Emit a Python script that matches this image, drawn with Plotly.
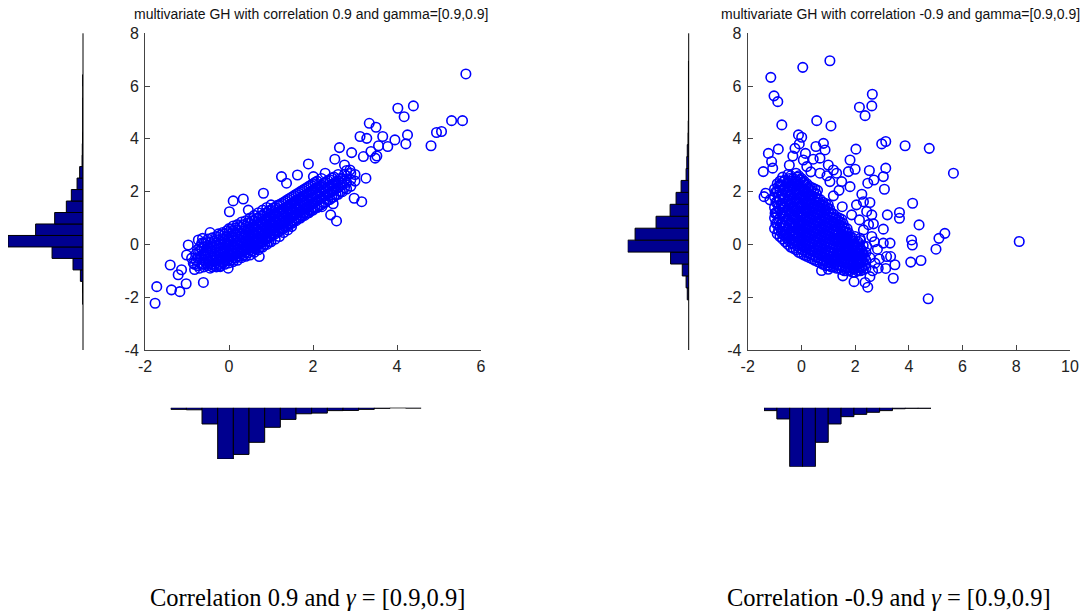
import plotly.graph_objects as go

W, H = 1086, 615

# ---------------- data: left panel (correlation 0.9) ----------------
left_outliers = [
    (5.64, 6.46), (4.39, 5.25), (4.02, 5.16), (4.17, 4.84), (5.30, 4.69), (5.56, 4.69),
    (5.06, 4.28), (4.94, 4.24), (4.81, 3.74), (4.25, 4.15), (4.21, 3.81), (3.95, 3.96),
    (3.78, 3.71), (3.34, 4.59), (3.50, 4.44), (3.12, 4.09), (3.28, 4.02), (3.66, 4.09),
    (3.56, 3.74), (3.38, 3.52), (3.52, 3.35), (3.48, 3.27), (3.20, 3.33), (2.92, 3.48),
    (2.63, 3.67), (2.52, 3.23), (2.75, 3.01), (2.88, 2.82), (3.26, 2.51), (3.16, 1.62),
    (2.98, 1.75), (2.42, 1.12), (2.56, 0.89), (2.48, 1.54), (2.21, 1.43), (1.89, 3.05),
    (1.63, 2.63), (1.25, 2.57), (1.37, 2.32), (2.29, 2.70), (2.01, 2.57), (1.77, 1.18),
    (1.49, 0.68), (0.82, 1.94), (0.34, 1.72), (0.10, 1.65), (0.01, 1.24), (0.46, 1.30),
    (0.72, -0.46), (0.62, -0.14), (-0.61, -1.44), (-0.02, -0.90), (-0.21, -0.84),
    (-0.97, -0.02), (-0.73, 0.17), (-0.45, 0.45), (-0.63, 0.23), (-1.40, -0.78),
    (-1.21, -1.15), (-1.13, -0.96), (-1.02, -1.49), (-1.37, -1.72), (-1.17, -1.79),
    (-1.72, -1.60), (-1.76, -2.23), (-1.01, -0.40), (-0.85, -0.71), (-0.89, -0.52),
]
# dense core, listed as (x, [y values at that x])
left_core = [
    (-0.82, [-0.95, -0.75]), (-0.78, [-0.6, -0.35]),
    (-0.70, [-0.9, -0.7, -0.55, -0.25, -0.1]),
    (-0.60, [-0.85, -0.75, -0.6, -0.35, -0.1, 0.05]),
    (-0.50, [-0.8, -0.65, -0.55, -0.3, -0.15, -0.05, 0.2]),
    (-0.40, [-0.85, -0.75, -0.6, -0.5, -0.25, -0.1, 0.0, 0.25]),
    (-0.30, [-0.85, -0.7, -0.55, -0.45, -0.2, -0.05, 0.05, 0.3]),
    (-0.20, [-0.8, -0.65, -0.5, -0.4, -0.3, -0.15, 0.0, 0.1, 0.35]),
    (-0.10, [-0.75, -0.6, -0.45, -0.35, -0.25, -0.1, 0.05, 0.15, 0.4]),
    (0.00, [-0.7, -0.55, -0.4, -0.3, -0.2, -0.05, 0.1, 0.2, 0.45, 0.6]),
    (0.10, [-0.65, -0.5, -0.35, -0.25, -0.1, 0.0, 0.15, 0.25, 0.5, 0.7]),
    (0.20, [-0.6, -0.45, -0.3, -0.2, -0.05, 0.05, 0.2, 0.3, 0.55, 0.75]),
    (0.30, [-0.5, -0.35, -0.2, -0.1, 0.05, 0.15, 0.3, 0.4, 0.65, 0.85]),
    (0.40, [-0.45, -0.3, -0.15, -0.05, 0.1, 0.2, 0.35, 0.45, 0.7, 0.9]),
    (0.50, [-0.4, -0.2, -0.05, 0.05, 0.2, 0.3, 0.45, 0.55, 0.8, 1.0]),
    (0.60, [-0.3, -0.1, 0.0, 0.15, 0.3, 0.4, 0.55, 0.65, 0.9, 1.1]),
    (0.70, [-0.2, 0.0, 0.1, 0.25, 0.4, 0.5, 0.65, 0.75, 1.0, 1.2]),
    (0.80, [-0.1, 0.1, 0.2, 0.35, 0.5, 0.6, 0.75, 0.85, 1.1, 1.3]),
    (0.90, [0.0, 0.2, 0.3, 0.45, 0.6, 0.7, 0.85, 0.95, 1.2, 1.4]),
    (1.00, [0.1, 0.3, 0.4, 0.55, 0.7, 0.8, 0.95, 1.05, 1.3, 1.5]),
    (1.10, [0.2, 0.4, 0.5, 0.65, 0.8, 0.9, 1.05, 1.15, 1.4]),
    (1.20, [0.3, 0.5, 0.6, 0.75, 0.9, 1.0, 1.15, 1.25, 1.5]),
    (1.30, [0.45, 0.6, 0.7, 0.85, 1.1, 1.25, 1.35, 1.6]),
    (1.40, [0.55, 0.7, 0.8, 0.95, 1.2, 1.35, 1.45, 1.7]),
    (1.50, [0.8, 0.9, 1.05, 1.3, 1.45, 1.55, 1.8]),
    (1.60, [0.9, 1.0, 1.15, 1.4, 1.55, 1.65, 1.9]),
    (1.70, [1.0, 1.1, 1.25, 1.5, 1.65, 1.75, 2.0]),
    (1.80, [1.1, 1.2, 1.35, 1.6, 1.85, 2.1]),
    (1.90, [1.2, 1.3, 1.45, 1.7, 1.95, 2.2]),
    (2.00, [1.3, 1.4, 1.55, 1.8, 2.05, 2.3]),
    (2.10, [1.4, 1.65, 1.9, 2.15, 2.4]),
    (2.20, [1.5, 1.75, 2.0, 2.25, 2.5]),
    (2.30, [1.6, 1.85, 2.1, 2.35]),
    (2.40, [1.7, 1.95, 2.2, 2.45]),
    (2.50, [1.8, 2.05, 2.3, 2.55]),
    (2.60, [1.9, 2.15, 2.4, 2.65]),
    (2.70, [2.0, 2.25, 2.5]),
    (2.80, [2.1, 2.35, 2.6, 2.8]),
    (2.90, [2.2, 2.45, 2.7]),
    (3.00, [2.4, 2.65]),
    # in-between columns
    (-0.75, [-0.8, -0.5, -0.2]),
    (-0.65, [-0.75, -0.45, -0.15, 0.05]),
    (-0.55, [-0.7, -0.45, -0.2, 0.1]),
    (-0.45, [-0.9, -0.68, -0.42, -0.18, 0.08]),
    (-0.35, [-0.8, -0.62, -0.38, -0.12, 0.12]),
    (-0.25, [-0.75, -0.58, -0.32, -0.08, 0.18, 0.4]),
    (-0.15, [-0.7, -0.52, -0.28, -0.02, 0.22, 0.45]),
    (-0.05, [-0.62, -0.48, -0.22, 0.02, 0.28, 0.52]),
    (0.05, [-0.58, -0.42, -0.18, 0.08, 0.32, 0.58]),
    (0.15, [-0.52, -0.38, -0.12, 0.12, 0.38, 0.62]),
    (0.25, [-0.45, -0.32, -0.08, 0.18, 0.42, 0.68]),
    (0.35, [-0.4, -0.25, 0.0, 0.25, 0.5, 0.75]),
    (0.45, [-0.32, -0.18, 0.08, 0.32, 0.58, 0.82]),
    (0.55, [-0.25, -0.1, 0.15, 0.4, 0.65, 0.9]),
    (0.65, [-0.18, -0.02, 0.22, 0.48, 0.72, 0.98]),
    (0.75, [-0.1, 0.08, 0.32, 0.58, 0.82, 1.08]),
    (0.85, [0.0, 0.18, 0.42, 0.68, 0.92, 1.18]),
    (0.95, [0.1, 0.28, 0.52, 0.78, 1.02, 1.28]),
    (1.05, [0.38, 0.62, 0.88, 1.12, 1.38]),
    (1.15, [0.48, 0.72, 0.98, 1.22, 1.48]),
    (1.25, [0.58, 0.82, 1.08, 1.32, 1.55]),
    (1.35, [0.68, 0.92, 1.18, 1.42, 1.65]),
    (1.45, [0.78, 1.02, 1.28, 1.52, 1.75]),
    (1.55, [0.88, 1.12, 1.38, 1.62, 1.85]),
    (1.65, [0.98, 1.22, 1.48, 1.72, 1.95]),
    (1.75, [1.08, 1.32, 1.58, 1.82, 2.05]),
    (1.85, [1.18, 1.42, 1.68, 1.92, 2.15]),
    (1.95, [1.28, 1.52, 1.78, 2.02, 2.25]),
    (2.05, [1.38, 1.62, 1.88, 2.12, 2.35]),
    (2.15, [1.48, 1.72, 1.98, 2.22]),
    (2.25, [1.58, 1.82, 2.08, 2.32]),
    (2.35, [1.68, 1.92, 2.18, 2.42]),
    (2.45, [1.78, 2.02, 2.28, 2.52]),
    (2.55, [1.88, 2.12, 2.38]),
    (2.65, [2.0, 2.25, 2.5]),
    (2.75, [2.15, 2.4, 2.65]),
]
left_yhist_start, left_yhist_width = -2.27, 0.435
left_yhist_counts = [1, 2, 11, 42, 130, 315, 199, 119, 70, 49, 25, 14, 4, 3, 2, 1, 1, 1, 0, 1]
left_xhist_start, left_xhist_width = -1.76, 0.4625
left_xhist_counts = [8, 10, 78, 246, 224, 166, 94, 56, 29, 26, 14, 13, 8, 3, 0, 2]

# ---------------- data: right panel (correlation -0.9) ----------------
right_outliers = [
    (1.06, 6.96), (0.05, 6.71), (-1.14, 6.33), (-1.02, 5.63), (-0.88, 5.41), (-0.73, 4.53),
    (0.57, 4.69), (1.10, 4.49), (2.64, 5.69), (2.62, 5.25), (2.16, 5.20), (2.37, 4.88),
    (4.76, 3.64), (3.86, 3.74), (3.14, 3.90), (2.99, 3.81), (2.03, 3.61), (1.81, 3.20),
    (2.00, 2.85), (2.53, 2.80), (2.70, 2.44), (2.47, 2.32), (3.14, 2.89), (3.05, 2.57),
    (3.09, 2.09), (5.66, 2.70), (4.14, 1.56), (3.65, 1.21), (3.65, 0.99), (3.20, 1.12),
    (4.38, 0.74), (3.05, 0.58), (5.34, 0.42), (5.12, 0.23), (5.01, -0.18), (4.10, 0.17),
    (4.13, -0.02), (4.07, -0.67), (4.45, -0.61), (8.11, 0.11), (4.72, -2.06), (3.42, -1.28),
    (3.48, -0.77), (3.32, -0.46), (3.17, -0.46), (3.30, 0.05), (3.05, 0.05), (2.83, -0.18),
    (3.14, -0.91), (2.86, -0.90), (2.74, -0.71), (2.47, -1.62), (2.37, -1.44), (1.96, -1.41),
    (2.55, -1.22), (2.24, -0.90), (1.54, -1.19), (0.75, -0.99), (1.00, -0.94),
    (-1.39, 1.81), (-1.33, 1.94), (-1.42, 2.76), (-1.23, 3.45), (-1.11, 3.14), (-1.07, 2.89),
    (-0.86, 3.61), (-0.11, 4.15), (0.01, 4.06), (-0.24, 3.64), (-0.32, 3.35), (-0.08, 3.81),
    (0.07, 3.20), (0.20, 2.95), (0.54, 3.71), (0.82, 3.83), (0.88, 3.58), (0.69, 3.27),
    (0.44, 3.23), (1.00, 3.01), (1.19, 2.82), (1.31, 2.70), (1.50, 2.38), (1.81, 2.19),
    (1.75, 2.76), (2.31, 1.62), (2.55, 1.59), (2.43, 1.25), (2.62, 1.12), (2.16, 0.93),
    (2.68, 0.78), (2.31, 0.55), (2.62, 0.30), (2.18, 0.23), (2.43, -0.08), (2.12, -0.33),
    (1.81, -0.71), (1.93, 0.0), (1.68, 0.42), (1.87, 1.12), (1.52, 1.43), (1.19, 1.84),
    (1.06, 2.38), (0.69, 2.70), (-0.98, 1.18), (-1.17, 1.69), (-0.80, 2.26),
    (0.35, 2.75), (0.15, 3.45), (-0.45, 3.0), (0.95, 2.6), (1.4, 2.05), (2.05, 1.5),
    (2.25, 1.9), (2.5, 0.75), (2.72, 0.1), (2.55, -0.5), (2.9, -0.55), (2.65, -1.0),
]
right_core = [
    (-1.00, [0.6, 1.0, 1.4, 1.8, 2.1]),
    (-0.90, [0.4, 0.8, 1.2, 1.6, 2.0, 2.3]),
    (-0.80, [0.3, 0.65, 1.0, 1.35, 1.7, 2.05, 2.4]),
    (-0.70, [0.2, 0.5, 0.85, 1.2, 1.55, 1.9, 2.25, 2.55]),
    (-0.60, [0.1, 0.4, 0.7, 1.05, 1.4, 1.75, 2.1, 2.45]),
    (-0.50, [0.0, 0.3, 0.6, 0.95, 1.3, 1.65, 2.0, 2.35, 2.65]),
    (-0.40, [-0.1, 0.2, 0.5, 0.85, 1.2, 1.55, 1.9, 2.25, 2.6]),
    (-0.30, [-0.15, 0.15, 0.45, 0.8, 1.1, 1.45, 1.8, 2.15, 2.5]),
    (-0.20, [-0.2, 0.1, 0.4, 0.7, 1.0, 1.35, 1.7, 2.05, 2.4, 2.7]),
    (-0.10, [-0.3, 0.0, 0.3, 0.6, 0.9, 1.25, 1.6, 1.95, 2.3, 2.6]),
    (0.00, [-0.35, -0.05, 0.25, 0.55, 0.85, 1.2, 1.5, 1.85, 2.2, 2.5]),
    (0.10, [-0.4, -0.1, 0.2, 0.5, 0.8, 1.1, 1.4, 1.75, 2.1, 2.4]),
    (0.20, [-0.45, -0.15, 0.15, 0.45, 0.75, 1.05, 1.35, 1.65, 2.0, 2.3]),
    (0.30, [-0.5, -0.2, 0.1, 0.4, 0.7, 1.0, 1.3, 1.6, 1.9, 2.2]),
    (0.40, [-0.55, -0.25, 0.05, 0.35, 0.65, 0.95, 1.25, 1.55, 1.85, 2.15]),
    (0.50, [-0.6, -0.3, 0.0, 0.3, 0.6, 0.9, 1.2, 1.5, 1.8, 2.1]),
    (0.60, [-0.65, -0.35, -0.05, 0.25, 0.55, 0.85, 1.15, 1.45, 1.75, 2.05]),
    (0.70, [-0.7, -0.4, -0.1, 0.2, 0.5, 0.8, 1.1, 1.4, 1.7]),
    (0.80, [-0.75, -0.45, -0.15, 0.15, 0.45, 0.75, 1.05, 1.35, 1.6]),
    (0.90, [-0.8, -0.5, -0.2, 0.1, 0.4, 0.7, 1.0, 1.3, 1.55]),
    (1.00, [-0.8, -0.55, -0.25, 0.05, 0.35, 0.65, 0.95, 1.25, 1.5]),
    (1.10, [-0.85, -0.55, -0.3, 0.0, 0.3, 0.6, 0.9, 1.2]),
    (1.20, [-0.85, -0.6, -0.3, 0.0, 0.25, 0.55, 0.85, 1.15]),
    (1.30, [-0.9, -0.6, -0.35, -0.05, 0.2, 0.5, 0.8, 1.05]),
    (1.40, [-0.9, -0.65, -0.35, -0.1, 0.2, 0.45, 0.75, 1.0]),
    (1.50, [-0.95, -0.65, -0.4, -0.1, 0.15, 0.4, 0.7, 0.95]),
    (1.60, [-1.0, -0.7, -0.4, -0.15, 0.1, 0.35, 0.65]),
    (1.70, [-1.0, -0.7, -0.45, -0.2, 0.05, 0.3, 0.6]),
    (1.80, [-1.0, -0.75, -0.45, -0.2, 0.05, 0.3]),
    (1.90, [-1.05, -0.75, -0.5, -0.25, 0.0, 0.25]),
    (2.00, [-1.05, -0.8, -0.5, -0.25, 0.0, 0.3]),
    (2.10, [-1.0, -0.75, -0.5, -0.2, 0.1]),
    (2.20, [-1.0, -0.7, -0.45, -0.15, 0.15]),
    (2.30, [-0.95, -0.65, -0.35, -0.05]),
    (2.40, [-0.9, -0.6, -0.3]),
    # in-between columns
    (-0.95, [0.8, 1.2, 1.6, 2.0]),
    (-0.85, [0.55, 0.95, 1.4, 1.8, 2.2]),
    (-0.75, [0.45, 0.8, 1.2, 1.55, 1.9, 2.25]),
    (-0.65, [0.35, 0.7, 1.05, 1.4, 1.75, 2.1, 2.4]),
    (-0.55, [0.25, 0.55, 0.9, 1.25, 1.6, 1.95, 2.3]),
    (-0.45, [0.15, 0.45, 0.8, 1.15, 1.5, 1.85, 2.2, 2.5]),
    (-0.35, [0.05, 0.35, 0.7, 1.05, 1.4, 1.75, 2.1, 2.4]),
    (-0.25, [0.0, 0.3, 0.62, 0.95, 1.28, 1.62, 1.95, 2.3]),
    (-0.15, [-0.05, 0.25, 0.55, 0.85, 1.2, 1.52, 1.88, 2.22, 2.55]),
    (-0.05, [-0.15, 0.15, 0.45, 0.75, 1.08, 1.42, 1.78, 2.12, 2.45]),
    (0.05, [-0.2, 0.1, 0.4, 0.7, 1.02, 1.35, 1.68, 2.02, 2.35]),
    (0.15, [-0.28, 0.02, 0.32, 0.62, 0.92, 1.25, 1.58, 1.9, 2.25]),
    (0.25, [-0.32, -0.02, 0.28, 0.58, 0.88, 1.18, 1.5, 1.82, 2.12]),
    (0.35, [-0.38, -0.08, 0.22, 0.52, 0.82, 1.12, 1.42, 1.72, 2.05]),
    (0.45, [-0.42, -0.12, 0.18, 0.48, 0.78, 1.08, 1.38, 1.68, 1.98]),
    (0.55, [-0.48, -0.18, 0.12, 0.42, 0.72, 1.02, 1.32, 1.62, 1.92]),
    (0.65, [-0.52, -0.22, 0.08, 0.38, 0.68, 0.98, 1.28, 1.58]),
    (0.75, [-0.58, -0.28, 0.02, 0.32, 0.62, 0.92, 1.22, 1.5]),
    (0.85, [-0.62, -0.32, -0.02, 0.28, 0.58, 0.88, 1.18, 1.45]),
    (0.95, [-0.68, -0.38, -0.08, 0.22, 0.52, 0.82, 1.12, 1.4]),
    (1.05, [-0.7, -0.42, -0.12, 0.18, 0.48, 0.78, 1.05, 1.35]),
    (1.15, [-0.72, -0.45, -0.15, 0.15, 0.42, 0.72, 1.02]),
    (1.25, [-0.75, -0.48, -0.18, 0.12, 0.38, 0.68, 0.98]),
    (1.35, [-0.78, -0.5, -0.22, 0.08, 0.35, 0.65, 0.92]),
    (1.45, [-0.8, -0.52, -0.25, 0.02, 0.3, 0.58, 0.85]),
    (1.55, [-0.85, -0.55, -0.28, 0.0, 0.25, 0.52, 0.8]),
    (1.65, [-0.88, -0.58, -0.3, -0.05, 0.2, 0.48]),
    (1.75, [-0.88, -0.6, -0.32, -0.08, 0.18, 0.45]),
    (1.85, [-0.9, -0.62, -0.35, -0.1, 0.15]),
    (1.95, [-0.92, -0.65, -0.38, -0.12, 0.12]),
    (2.05, [-0.9, -0.62, -0.35, -0.08]),
    (2.15, [-0.88, -0.6, -0.32, 0.0]),
    (2.25, [-0.85, -0.55, -0.25]),
    (2.35, [-0.8, -0.5]),
]
right_yhist_start, right_yhist_width = -2.1, 0.4525
right_yhist_counts = [6, 11, 27, 76, 256, 225, 137, 78, 53, 32, 11, 8, 6, 3, 2, 1, 1, 1, 1, 1]
right_xhist_start, right_xhist_width = -1.42, 0.733
right_xhist_counts = [14, 54, 283, 283, 166, 78, 43, 32, 22, 14, 5, 3, 3]

y_tickvals = [-4, -2, 0, 2, 4, 6, 8]
y_ticktext = ["-4", "-2", "0", "2", "4", "6", "8"]
left_x_tickvals = [-2, 0, 2, 4, 6]
left_x_ticktext = ["-2", "0", "2", "4", "6"]
right_x_tickvals = [-2, 0, 2, 4, 6, 8, 10]
right_x_ticktext = ["-2", "0", "2", "4", "6", "8", "10"]

titles = ["multivariate GH with correlation 0.9 and gamma=[0.9,0.9]",
          "multivariate GH with correlation -0.9 and gamma=[0.9,0.9]"]
captions = ["Correlation 0.9 and <i>γ</i> = [0.9,0.9]",
            "Correlation -0.9 and <i>γ</i> = [0.9,0.9]"]

# ---------------- styling / layout ----------------
SANS = "Liberation Sans, Arial, sans-serif"
SERIF = "Liberation Serif, Times New Roman, serif"
BAR_FILL = "#00008F"
MARK = "#0000FF"


def px_x(p):
    return p / W


def px_y(p):
    return 1 - p / H


def expand(outliers, core):
    pts = list(outliers)
    for x, ys in core:
        pts.extend((x, y) for y in ys)
    return pts


panels = [
    dict(pts=expand(left_outliers, left_core), xr=[-2, 6],
         xtv=left_x_tickvals, xtt=left_x_ticktext,
         sc=(145, 481), yh=(8, 83), xh=(170.7, 421.3), xh_y=(407.7, 459),
         ys=left_yhist_start, yw=left_yhist_width, yc=left_yhist_counts,
         xs=left_xhist_start, xw=left_xhist_width, xc=left_xhist_counts,
         title_x=311, title_anchor="center", cap_x=307),
    dict(pts=expand(right_outliers, right_core), xr=[-2, 10],
         xtv=right_x_tickvals, xtt=right_x_ticktext,
         sc=(747.7, 1070), yh=(627.7, 688.7), xh=(764, 931), xh_y=(407.7, 466.7),
         ys=right_yhist_start, yw=right_yhist_width, yc=right_yhist_counts,
         xs=right_xhist_start, xw=right_xhist_width, xc=right_xhist_counts,
         title_x=1082, title_anchor="right", cap_x=889),
]

SC_TOP, SC_BOT = 33.3, 350

fig = go.Figure()
layout = dict(width=W, height=H, autosize=False, margin=dict(l=0, r=0, t=0, b=0, pad=0),
              paper_bgcolor="white", plot_bgcolor="rgba(0,0,0,0)", showlegend=False,
              bargap=0, annotations=[], shapes=[])

for i, p in enumerate(panels):
    k = 3 * i
    ax_s, ax_yh, ax_xh = k + 1, k + 2, k + 3
    nm = lambda n: "" if n == 1 else str(n)

    fig.add_trace(go.Scatter(x=[q[0] for q in p["pts"]], y=[q[1] for q in p["pts"]],
                             mode="markers", xaxis="x" + nm(ax_s), yaxis="y" + nm(ax_s),
                             marker=dict(symbol="circle-open", size=9.5, color=MARK,
                                         line=dict(width=1.6, color=MARK)),
                             hoverinfo="skip"))
    tickfont = dict(family=SANS, size=16, color="#222222")
    common = dict(showgrid=False, zeroline=False, showline=True, linecolor="#444444",
                  linewidth=1, ticks="inside", ticklen=5, tickcolor="#444444",
                  tickfont=tickfont, automargin=False)
    layout["xaxis" + nm(ax_s)] = dict(domain=[px_x(p["sc"][0]), px_x(p["sc"][1])], range=p["xr"],
                                      tickmode="array", tickvals=p["xtv"], ticktext=p["xtt"],
                                      ticklabelstandoff=2, anchor="y" + nm(ax_s), **common)
    layout["yaxis" + nm(ax_s)] = dict(domain=[px_y(SC_BOT), px_y(SC_TOP)], range=[-4, 8],
                                      tickmode="array", tickvals=y_tickvals, ticktext=y_ticktext,
                                      ticklabelstandoff=2, anchor="x" + nm(ax_s), **common)

    # left (y) histogram, bars extending leftwards
    ycent = [p["ys"] + p["yw"] * (j + 0.5) for j in range(len(p["yc"]))]
    fig.add_trace(go.Bar(y=ycent, x=p["yc"], orientation="h", width=p["yw"],
                         xaxis="x" + nm(ax_yh), yaxis="y" + nm(ax_yh),
                         marker=dict(color=BAR_FILL, line=dict(color="black", width=1)),
                         hoverinfo="skip"))
    layout["xaxis" + nm(ax_yh)] = dict(domain=[px_x(p["yh"][0]), px_x(p["yh"][1])],
                                       range=[max(p["yc"]), 0], visible=False,
                                       anchor="y" + nm(ax_yh))
    layout["yaxis" + nm(ax_yh)] = dict(domain=[px_y(SC_BOT), px_y(SC_TOP)], range=[-4, 8],
                                       visible=False, anchor="x" + nm(ax_yh))
    layout["shapes"].append(dict(type="line", xref="paper", yref="paper",
                                 x0=px_x(p["yh"][1]), x1=px_x(p["yh"][1]),
                                 y0=px_y(SC_BOT), y1=px_y(SC_TOP),
                                 line=dict(color="black", width=1)))

    # bottom (x) histogram, bars extending downwards
    xcent = [p["xs"] + p["xw"] * (j + 0.5) for j in range(len(p["xc"]))]
    fig.add_trace(go.Bar(x=xcent, y=p["xc"], width=p["xw"],
                         xaxis="x" + nm(ax_xh), yaxis="y" + nm(ax_xh),
                         marker=dict(color=BAR_FILL, line=dict(color="black", width=1)),
                         hoverinfo="skip"))
    layout["xaxis" + nm(ax_xh)] = dict(domain=[px_x(p["xh"][0]), px_x(p["xh"][1])],
                                       range=[p["xs"], p["xs"] + p["xw"] * len(p["xc"])],
                                       visible=False, anchor="y" + nm(ax_xh))
    layout["yaxis" + nm(ax_xh)] = dict(domain=[px_y(p["xh_y"][1]), px_y(p["xh_y"][0])],
                                       range=[max(p["xc"]), 0], visible=False,
                                       anchor="x" + nm(ax_xh))

    layout["annotations"].append(dict(text=titles[i], xref="paper", yref="paper",
                                      x=px_x(p["title_x"]), y=px_y(14),
                                      xanchor=p["title_anchor"], yanchor="middle",
                                      showarrow=False,
                                      font=dict(family=SANS, size=14, color="#111111")))
    layout["annotations"].append(dict(text=captions[i], xref="paper", yref="paper",
                                      x=px_x(p["cap_x"]), y=px_y(597), xanchor="center",
                                      yanchor="middle", showarrow=False,
                                      font=dict(family=SERIF, size=24.5, color="black")))

fig.update_layout(**layout)
fig.write_html("out.html", config=dict(displayModeBar=False, staticPlot=True),
               post_script="document.body.style.margin='0';document.body.style.overflow='hidden';")
